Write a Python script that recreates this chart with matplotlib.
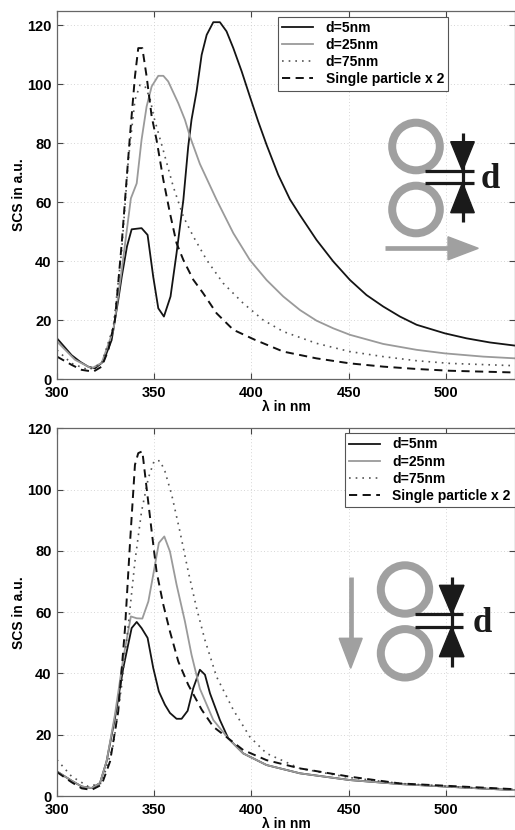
import matplotlib
matplotlib.use('Agg')
import matplotlib.pyplot as plt
from matplotlib.patches import Circle, Polygon

plt.rcParams['font.family'] = ['Liberation Sans', 'DejaVu Sans']
plt.rcParams['font.weight'] = 'bold'

# ---- data (wavelength in nm, SCS in a.u.) ----
LABELS = ['d=5nm', 'd=25nm', 'd=75nm', 'Single particle x 2']

# top panel: polarisation along the pair axis
T_D5_NM = [300, 307.5, 312, 316, 319.5, 323.8, 328.1, 331.5, 333.3, 336, 338.4, 343.5, 346.6,
           349.5, 352.1, 355, 358.4, 361.5, 365, 367.5, 369.2, 371.8, 374.4, 377, 380.4, 383.8,
           387.2, 390.7, 395, 399.2, 403.5, 407.8, 413.8, 419.8, 424.9, 433.5, 442.1, 450.7,
           459.2, 467.8, 476.4, 485, 499.5, 510.7, 522.7, 536]
T_D5 = [13.8, 8.1, 5.8, 4.2, 3.6, 5.9, 13.2, 26.8, 34.7, 45, 50.8, 51.2, 48.9,
        34.7, 24, 21.2, 28, 42.7, 60.8, 78.9, 88, 97.6, 110, 116.8, 121.1, 121.1,
        118, 112.3, 104.4, 95.9, 87.4, 79.5, 69.3, 61, 55.7, 47.2, 39.9, 33.6,
        28.5, 24.6, 21.2, 18.4, 15.5, 13.8, 12.4, 11.3]

T_D25_NM = [300, 309.3, 317.8, 323, 329, 333.3, 338, 341, 343.5, 346.1, 348.7, 352.1, 354.7,
            357.2, 362.4, 365.8, 368.4, 373.5, 382.1, 390.7, 399.2, 407.8, 416.4, 425, 433.5,
            442.1, 450.7, 467.8, 485, 499.5, 519.2, 536]
T_D25 = [12.7, 6.5, 3.6, 5.5, 16.6, 37, 61.3, 66.4, 81.2, 92.5, 99.3, 102.9, 102.9,
         101, 93.6, 88, 82.3, 73, 60.8, 49.5, 40.4, 33.6, 28, 23.4, 19.8,
         17.2, 15, 11.9, 9.9, 8.7, 7.6, 7.0]

T_D75_NM = [300, 307.5, 316.1, 323, 329, 333.3, 336.7, 340.1, 342.7, 345.3, 347.8, 350,
            354.5, 359.8, 365, 370.1, 377, 385.5, 395.8, 406.1, 416.4, 433.5, 450.7, 467.8,
            485, 502, 536]
T_D75 = [9.8, 5.3, 3.1, 5.3, 17.8, 43.8, 74.4, 94.7, 99.8, 99.3, 95.3, 88.5,
         78, 65.3, 55.1, 48.4, 40.4, 32.5, 25.7, 20, 16.1, 12.1, 9.3, 7.6,
         6.2, 5.3, 4.5]

T_SP_NM = [300, 307.5, 312.7, 318.7, 323, 326.4, 329.8, 333.3, 337.5, 340.1, 341.8, 343.9,
           346.1, 348.7, 351.2, 354.7, 358.1, 361.5, 365, 370.1, 375.2, 382.1, 390.7, 401.8,
           416.4, 433.5, 450.7, 467.8, 485, 502, 536]
T_SP = [7.6, 4.8, 3.1, 2.5, 4.2, 9.8, 20, 46.1, 82.3, 102.7, 112.3, 112.3,
        102.7, 89.1, 81.2, 67.6, 56.3, 46.1, 40.4, 33.7, 29.1, 22.3, 16.7, 13.3,
        9.3, 7.0, 5.3, 4.2, 3.4, 2.8, 2.2]

# bottom panel: polarisation across the pair axis
B_D5_NM = [300, 307.5, 312.7, 317.8, 322.1, 325.5, 329.8, 334.1, 338.4, 341, 343.5, 346.6,
           349.5, 352.4, 355.5, 358.1, 361.5, 364.1, 367.2, 370.1, 373.5, 376.1, 378.7,
           383.8, 388.1, 395.8, 407.8, 425, 450.7, 476.4, 510.7, 536]
B_D5 = [8.0, 5, 3.1, 2.6, 4.2, 11.3, 25.4, 41.8, 54.8, 56.8, 54.8, 51.6,
        41.8, 34.1, 29.8, 27.1, 25.2, 25.2, 27.8, 35.2, 41.2, 39.6, 33.5,
        24.8, 18.8, 13.9, 10.1, 7.4, 5.2, 3.9, 2.7, 1.9]

B_D25_NM = [300, 307.5, 312.7, 317.8, 322.1, 325.5, 329.8, 334.1, 338, 341, 343.9, 347,
            349.5, 352.4, 355.2, 358.1, 361.5, 365.8, 369.2, 373.5, 380.4, 388.1, 395.8,
            407.8, 425, 450.7, 476.4, 510.7, 536]
B_D25 = [8, 5, 3.1, 2.6, 4.2, 11.3, 26.5, 45, 58.6, 58, 57.9, 63.5,
         72.2, 82.6, 84.7, 79.8, 69, 57, 46.1, 35, 24.8, 18.8, 13.9,
         10.1, 7.4, 5.2, 3.9, 2.7, 1.9]

B_D75_NM = [300, 307.5, 316.1, 323, 329, 333.3, 336.7, 340.1, 343.5, 347, 350, 353, 355.5,
            359, 363.2, 367.5, 371.8, 376.1, 382.1, 390.7, 399.2, 407.8, 425, 450.7, 476.4,
            510.7, 536]
B_D75 = [11.8, 6.4, 3.1, 4.2, 16.7, 36.3, 55.9, 76.6, 92.9, 103.8, 109.4, 109.4, 106,
         98.3, 86.4, 73.3, 61.3, 50.9, 38.9, 28.1, 19.3, 13.9, 9, 6, 4.1,
         2.8, 2.2]

B_SP_NM = [300, 307.5, 312.7, 317.8, 323, 327.3, 331.5, 335, 337.5, 340.1, 341.8, 343.9,
           346.1, 348.7, 351.2, 354.7, 358.1, 362.4, 367.5, 374.4, 380.4, 388.1, 395.8,
           407.8, 425, 450.7, 476.4, 510.7, 536]
B_SP = [7.8, 4.5, 2.5, 2.0, 3.7, 11.3, 27.6, 54.8, 82, 108.1, 111.9, 112.5,
        100.5, 86.4, 73.3, 62.4, 53.7, 43.9, 36.3, 28.2, 22.6, 18.8, 15,
        11.7, 9, 6.3, 4.1, 3, 2.2]

STYLES = [
    dict(color='#141414', lw=1.3, ls='-'),
    dict(color='#9a9a9a', lw=1.3, ls='-'),
    dict(color='#555555', lw=1.2, ls=(0, (1, 3))),
    dict(color='#111111', lw=1.4, ls=(0, (4.2, 2.8))),
]

W, H = 515, 830
fig = plt.figure(figsize=(W / 100, H / 100), dpi=100)


def px_axes(left, top, right, bottom):
    return fig.add_axes([left / W, 1 - bottom / H, (right - left) / W, (bottom - top) / H])


def style_axes(ax, ymax):
    ax.set_xlim(300, 535.6)
    ax.set_ylim(0, ymax)
    ax.set_xticks([300, 350, 400, 450, 500])
    ax.set_yticks([0, 20, 40, 60, 80, 100, 120])
    ax.tick_params(direction='in', length=4, width=0.8, top=True, right=True,
                   labelsize=10.5, color='#444444')
    ax.tick_params(axis='x', pad=5)
    ax.tick_params(axis='y', pad=4)
    for lab in ax.get_xticklabels() + ax.get_yticklabels():
        lab.set_fontweight('bold')
    for sp in ax.spines.values():
        sp.set_color('#666666')
        sp.set_linewidth(0.9)
    ax.grid(True, color='#c8c8c8', lw=0.6, ls=(0, (1, 3)))
    ax.set_axisbelow(True)
    ax.set_xlabel('λ in nm', fontsize=10, fontweight='bold', labelpad=0)
    ax.set_ylabel('SCS in a.u.', fontsize=10, fontweight='bold', labelpad=1)


def draw_panel(ax, series, ymax, legend_anchor):
    for (nm, scs), label, st in zip(series, LABELS, STYLES):
        ax.plot(nm, scs, label=label, **st)
    style_axes(ax, ymax)
    leg = ax.legend(loc='upper left', bbox_to_anchor=legend_anchor,
                    bbox_transform=fig.transFigure, fancybox=False, framealpha=1,
                    edgecolor='#555555', fontsize=10, handlelength=2.2, handletextpad=0.9,
                    labelspacing=0.22, borderpad=0.32, borderaxespad=0)
    leg.get_frame().set_linewidth(0.8)
    for t in leg.get_texts():
        t.set_fontweight('bold')


ax_top = px_axes(57, 10.7, 515, 379)
draw_panel(ax_top, [(T_D5_NM, T_D5), (T_D25_NM, T_D25), (T_D75_NM, T_D75), (T_SP_NM, T_SP)],
           125, (278 / W, 1 - 16.7 / H))

ax_bot = px_axes(57, 428.3, 515, 796)
draw_panel(ax_bot, [(B_D5_NM, B_D5), (B_D25_NM, B_D25), (B_D75_NM, B_D75), (B_SP_NM, B_SP)],
           120, (345 / W, 1 - 433 / H))

# ---- sketch of the particle pair, drawn in pixel coordinates ----
ov = fig.add_axes([0, 0, 1, 1], zorder=5)
ov.set_xlim(0, W)
ov.set_ylim(H, 0)
ov.axis('off')
ov.patch.set_alpha(0)

RING = '#a0a0a0'
DARK = '#1a1a1a'
PX = 0.72  # points per pixel


def pair_sketch(cx, cy1, cy2, r, vx, y1, y2, vtop, vbot, lx0, lx1, half, dx):
    for cy in (cy1, cy2):
        ov.add_patch(Circle((cx, cy), r - 4, fill=False, ec=RING, lw=8 * PX))
    for y in (y1, y2):
        ov.plot([lx0, lx1], [y, y], color=DARK, lw=3.2 * PX, solid_capstyle='butt')
    ov.plot([vx, vx], [vtop, vbot], color=DARK, lw=3.2 * PX, solid_capstyle='butt')
    ov.add_patch(Polygon([(vx - half, y1 - 29), (vx + half, y1 - 29), (vx, y1)], color=DARK))
    ov.add_patch(Polygon([(vx - half, y2 + 30), (vx + half, y2 + 30), (vx, y2)], color=DARK))
    ov.text(dx, y2 + 5, 'd', family=['Liberation Serif', 'DejaVu Serif'],
            fontweight='bold', fontsize=25, ha='left', va='baseline', color=DARK)


pair_sketch(416, 146.5, 209.5, 27.8, 462.5, 170.7, 182.7, 133, 221.7, 425, 474, 11.8, 481)
pair_sketch(405, 589.5, 653.3, 28.2, 451.7, 614.3, 626.7, 576.7, 666.7, 415, 463.3, 12.3, 473)

# field arrows
ov.plot([385, 449], [248.3, 248.3], color=RING, lw=4.7 * PX, solid_capstyle='butt')
ov.add_patch(Polygon([(448, 236.8), (448, 259.8), (478.3, 248.3)], color=RING))
ov.plot([350.7, 350.7], [576.7, 639], color=RING, lw=4.7 * PX, solid_capstyle='butt')
ov.add_patch(Polygon([(339.2, 638.3), (362.2, 638.3), (350.7, 668.3)], color=RING))

fig.savefig('out.png', dpi=100)
